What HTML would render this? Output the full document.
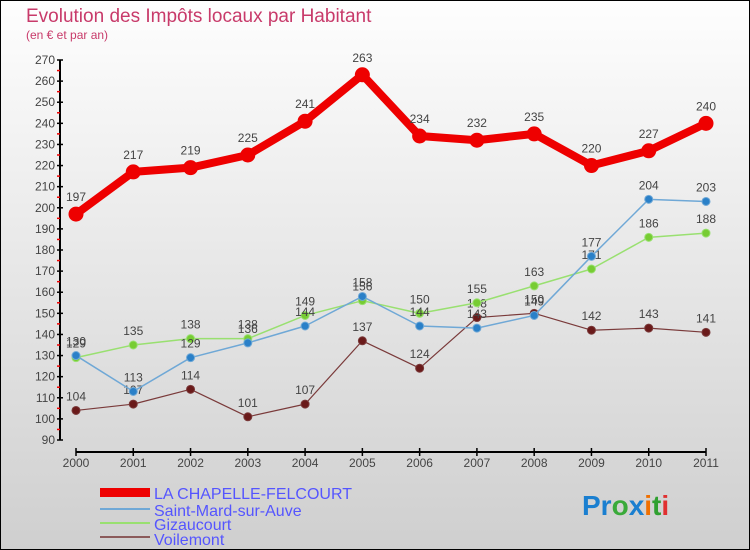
<!DOCTYPE html>
<html><head><meta charset="utf-8"><style>
body{margin:0}
#c{width:750px;height:550px;position:relative;overflow:hidden;font-family:"Liberation Sans",sans-serif;}
</style></head><body>
<div id="c">
<svg id="s" width="750" height="550" xmlns="http://www.w3.org/2000/svg">
<defs><linearGradient id="bg" x1="0" y1="0" x2="0" y2="1"><stop offset="0" stop-color="#fefefe"/><stop offset="1" stop-color="#cfcfcf"/></linearGradient></defs>
<rect x="0.5" y="0.5" width="749" height="549" fill="url(#bg)" stroke="#000"/>
<text x="26" y="22" font-size="19" fill="#c83a6a">Evolution des Impôts locaux par Habitant</text>
<text x="26" y="39" font-size="12" fill="#c83a6a">(en € et par an)</text>
<g id="axes"></g><g id="plot"></g>
<g>
<rect x="100" y="488" width="50" height="9" fill="#ee0000"/>
<text x="154" y="499" font-size="16" fill="#5555ff">LA CHAPELLE-FELCOURT</text>
<rect x="100" y="508" width="50" height="2" fill="#6fa8d6"/>
<text x="154" y="516" font-size="16" fill="#5555ff">Saint-Mard-sur-Auve</text>
<rect x="100" y="522" width="50" height="2" fill="#99e070"/>
<text x="154" y="530" font-size="16" fill="#5555ff">Gizaucourt</text>
<rect x="100" y="536" width="50" height="2" fill="#8b5a5a"/>
<text x="154" y="545" font-size="16" fill="#5555ff">Voilemont</text>
</g>
<text x="582" y="515" font-size="28" font-weight="bold"><tspan fill="#1a7fd0">Pr</tspan><tspan fill="#3aaa3a">o</tspan><tspan fill="#1a7fd0">x</tspan><tspan fill="#f07000">i</tspan><tspan fill="#30a030">t</tspan><tspan fill="#e03030">i</tspan></text>
</svg></div>
<script>
const years=["2000","2001","2002","2003","2004","2005","2006","2007","2008","2009","2010","2011"];
const yTicks=[90,100,110,120,130,140,150,160,170,180,190,200,210,220,230,240,250,260,270];
const chapelle=[197,217,219,225,241,263,234,232,235,220,227,240];
const saintMard=[130,113,129,136,144,158,144,143,149,177,204,203];
const gizaucourt=[129,135,138,138,149,156,150,155,163,171,186,188];
const voilemont=[104,107,114,101,107,137,124,148,150,142,143,141];
const NS="http://www.w3.org/2000/svg";
const X=i=>76+i*(630/11);
const Y=v=>440-(v-90)*(380/180);
function mk(t,a,p){const e=document.createElementNS(NS,t);for(const k in a)e.setAttribute(k,a[k]);p.appendChild(e);return e;}
const ax=document.getElementById('axes'),pl=document.getElementById('plot');
const ya=mk('line',{x1:60,y1:Y(270),x2:60,y2:Y(90),stroke:'#000','stroke-width':2},ax);


yTicks.forEach(v=>{
 mk('line',{x1:57,x2:63,y1:Y(v),y2:Y(v),stroke:'#000','stroke-width':1.5},ax);
 if(v<270)mk('line',{x1:57,x2:60,y1:Y(v+5),y2:Y(v+5),stroke:'#e00','stroke-width':1.5},ax);
 const t=mk('text',{x:55,y:Y(v)+4,'font-size':12,fill:'#444','text-anchor':'end'},ax);t.textContent=v;
 
 
});
const xa=mk('line',{x1:X(0),x2:X(11),y1:452,y2:452,stroke:'#000','stroke-width':2},ax);


years.forEach((y,i)=>{
 mk('line',{x1:X(i),x2:X(i),y1:448,y2:456,stroke:'#000','stroke-width':1.5},ax);
 const t=mk('text',{x:X(i),y:467,'font-size':12,fill:'#444','text-anchor':'middle'},ax);t.textContent=y;
 
 
});
function series(d,col,w,r,name,dot){
 const g=mk('g',{},pl);
 
 
 mk('polyline',{points:d.map((v,i)=>X(i)+','+Y(v)).join(' '),fill:'none',stroke:col,'stroke-width':w,'stroke-linejoin':'round'},g);
 d.forEach((v,i)=>{
  const c=mk('circle',{cx:X(i),cy:Y(v),r:r,fill:dot,stroke:col,'stroke-width':1},g);
  
  
  const t=mk('text',{x:X(i),y:Y(v)-(r+6),'font-size':12,fill:'#444','text-anchor':'middle'},g);t.textContent=v;
  
  
 });
}
series(voilemont,'#7a3a3a',1.2,4,'voilemont','#6a1a1a');
series(gizaucourt,'#99e070',1.5,4,'gizaucourt','#77cc33');
series(saintMard,'#6fa8d6',1.5,4,'saint-mard','#2a80c8');
series(chapelle,'#ee0000',8,7,'la-chapelle','#ee0000');
</script>
</body></html>
